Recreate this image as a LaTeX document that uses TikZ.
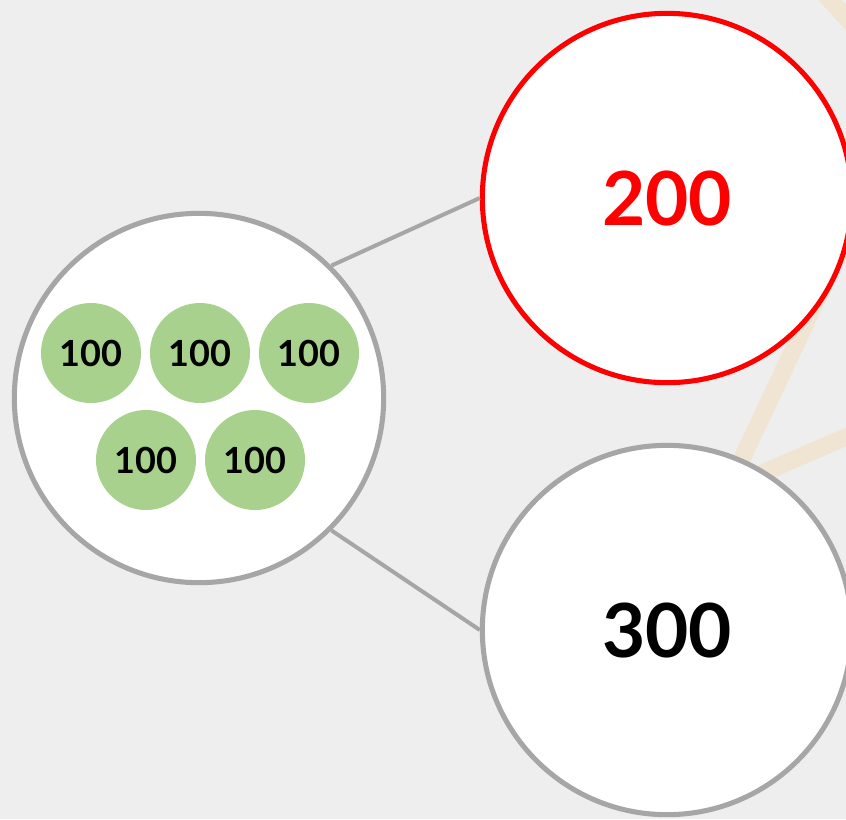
\documentclass[tikz,border=0pt]{standalone}
\usepackage{fontspec}
\setmainfont{Lato}
\definecolor{bggray}{HTML}{EEEEEE}
\definecolor{linegray}{HTML}{A6A6A6}
\definecolor{coingreen}{HTML}{A9D18E}
\definecolor{beige}{HTML}{F0E4D3}
\begin{document}
\begin{tikzpicture}[x=0.75pt,y=-0.75pt]
  \tikzstyle{bigcircle}=[circle,draw=linegray,line width=3.8pt,fill=white,minimum size=277pt,inner sep=0pt,font=\fontsize{56}{56}\selectfont\bfseries]
  \tikzstyle{coin}=[circle,fill=coingreen,minimum size=75pt,inner sep=0pt,font=\fontsize{27}{27}\selectfont\bfseries]
  \tikzstyle{link}=[draw=linegray,line width=3pt]
  \tikzstyle{stripe}=[draw=beige,line width=13pt]
  \clip (0,0) rectangle (846,819);
  \fill [bggray] (0,0) rectangle (846,819);
  % faint stripes of the picture behind
  \draw [stripe] (812,-20) -- (880,55);
  \draw [stripe] (880,165) -- (700,548);
  \draw [stripe] (950,392) -- (700,500);
  \node [bigcircle] (whole) at (199,398) {};
  \node [bigcircle,draw=red,text=red] (part1) at (667,198) {200};
  \node [bigcircle] (part2) at (667,630) {300};
  \node [coin] (c1) at (91,353) {100};
  \node [coin] (c2) at (200,353) {100};
  \node [coin] (c3) at (309,353) {100};
  \node [coin] (c4) at (146,460) {100};
  \node [coin] (c5) at (255,460) {100};
  \draw [link] (whole.45) -- (part1.west);
  \draw [link] (whole.-45) -- (part2.west);
\end{tikzpicture}
\end{document}
